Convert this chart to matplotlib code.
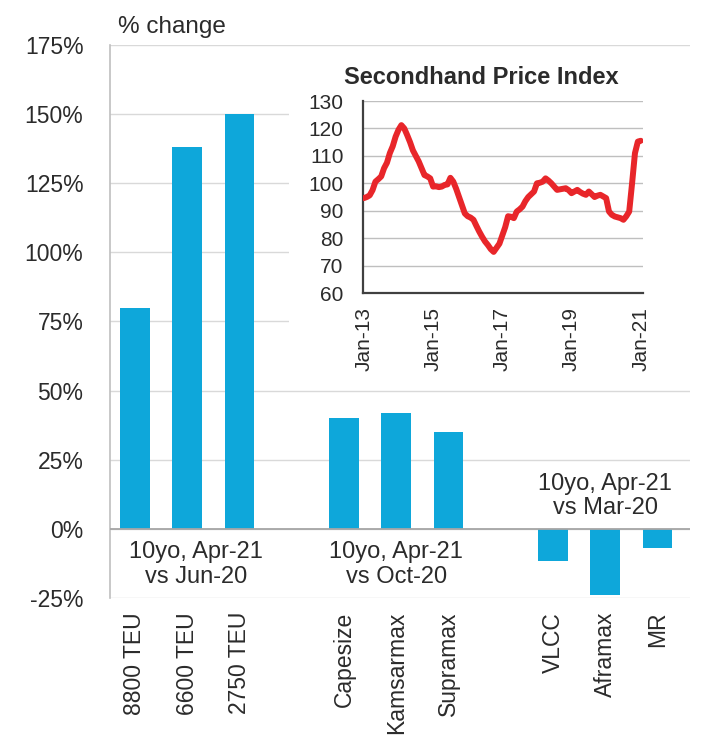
import matplotlib
matplotlib.use("Agg")
import matplotlib.pyplot as plt
from matplotlib.patches import Rectangle
import numpy as np

plt.rcParams['font.family'] = ['Liberation Sans', 'DejaVu Sans']

# ---- main bar data ----
categories = ["8800 TEU", "6600 TEU", "2750 TEU",
              "Capesize", "Kamsarmax", "Supramax",
              "VLCC", "Aframax", "MR"]
positions = [0, 1, 2, 4, 5, 6, 8, 9, 10]
pct_change = [80, 138, 150, 40, 42, 35, -11.5, -24, -7]
group_labels = ["10yo, Apr-21\nvs Jun-20", "10yo, Apr-21\nvs Oct-20", "10yo, Apr-21\nvs Mar-20"]
yticks = [-25, 0, 25, 50, 75, 100, 125, 150, 175]

# ---- inset: Secondhand Price Index, monthly Jan-13 .. Jan-21 ----
price_index = [
    94.6, 95.0, 95.6, 97.5, 100.6, 101.5, 102.5, 105.5, 107.5, 111, 113.5, 117,
    119.5, 121.2, 120, 117.6, 115, 112, 110, 108, 105.5, 103, 102.5, 101.8,
    98.8, 98.9, 98.6, 98.8, 99.4, 99.6, 102, 100.6, 98, 95, 92, 89,
    88, 87.5, 86.7, 84.5, 82.4, 80.5, 78.8, 77.5, 76, 75, 76.5, 78,
    81, 84, 88, 87.8, 87.3, 89.7, 90.5, 91.5, 93.5, 95, 96, 97,
    100, 100.2, 100.6, 101.8, 101, 100, 98.8, 97.6, 97.8, 98, 98.2, 97.5,
    96.4, 97, 97.6, 96.8, 96.2, 95.8, 97, 96, 95, 95.5, 95.8, 95.2,
    94.6, 89.7, 88.5, 87.9, 87.6, 87.3, 86.7, 88, 89.7, 100, 111, 115.2,
    115.5,
]
inset_xticklabels = ["Jan-13", "Jan-15", "Jan-17", "Jan-19", "Jan-21"]
inset_yticks = [60, 70, 80, 90, 100, 110, 120, 130]

BAR = "#0ea7da"
TXT = "#2b2b2b"
FS = 16.5

fig = plt.figure(figsize=(7.18, 7.56), dpi=100)
ax = fig.add_axes([0.153, 0.209, 0.808, 0.7315])

ax.bar(positions, pct_change, width=0.57, color=BAR, zorder=2)
ax.set_ylim(-25, 175)
ax.set_xlim(-0.48, 10.62)
ax.set_yticks(yticks)
ax.set_yticklabels([f"{v}%" for v in yticks], fontsize=FS, color=TXT)
ax.set_xticks(positions)
ax.set_xticklabels(categories, rotation=90, fontsize=FS, color=TXT, va="top")
ax.tick_params(length=0, pad=10)
ax.tick_params(axis='y', pad=19)
ax.yaxis.grid(True, color="#d9d9d9", linewidth=1.0, zorder=0)
ax.set_axisbelow(True)
for s in ["top", "right", "bottom"]:
    ax.spines[s].set_visible(False)
ax.spines["left"].set_color("#bfbfbf")
ax.spines["left"].set_linewidth(1.2)
ax.axhline(0, color="#a6a6a6", linewidth=1.3, zorder=3)

ax.text(0.014, 1.012, "% change", transform=ax.transAxes, fontsize=17.5,
        color=TXT, ha="left", va="bottom")

ax.text(1.17, -12.8, group_labels[0], ha="center", va="center", fontsize=17,
        color=TXT, linespacing=1.15)
ax.text(5.0, -12.8, group_labels[1], ha="center", va="center", fontsize=17,
        color=TXT, linespacing=1.15)
ax.text(9.0, 11.9, group_labels[2], ha="center", va="center", fontsize=17,
        color=TXT, linespacing=1.15)

# white backdrop behind inset chart
fig.patches.append(Rectangle((289/718, 1-380/756), (700-289)/718, (380-55)/756,
                             transform=fig.transFigure, facecolor="white",
                             edgecolor="none", zorder=1))

iax = fig.add_axes([0.5056, 0.6124, 0.39, 0.2540], zorder=2)
months = np.arange(len(price_index))
iax.plot(months, price_index, color="#e8262a", linewidth=4.3,
         solid_capstyle="round", solid_joinstyle="round", zorder=3)
iax.set_ylim(60, 130)
iax.set_xlim(-0.3, 96.8)
iax.set_yticks(inset_yticks)
iax.set_yticklabels([str(v) for v in inset_yticks], fontsize=15, color=TXT)
iax.set_xticks([0, 24, 48, 72, 96])
iax.set_xticklabels(inset_xticklabels, rotation=90, fontsize=15, color=TXT)
iax.tick_params(length=0, pad=14)
iax.tick_params(axis='x', pad=10)
iax.yaxis.grid(True, color="#bfbfbf", linewidth=1.0)
iax.set_axisbelow(True)
for s in ["top", "right"]:
    iax.spines[s].set_visible(False)
for s in ["left", "bottom"]:
    iax.spines[s].set_color("#404040")
    iax.spines[s].set_linewidth(1.6)

fig.text(481/718, 1-78/756, "Secondhand Price Index", fontsize=17,
         fontweight="bold", color=TXT, ha="center", va="center")

fig.savefig("out.png", dpi=100)
